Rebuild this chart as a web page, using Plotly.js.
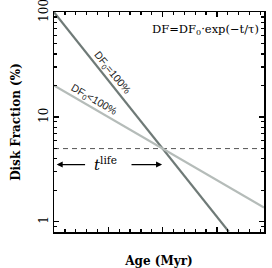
<!DOCTYPE html>
<html>
<head>
<meta charset="utf-8">
<script src="https://cdn.plot.ly/plotly-3.0.1.min.js"></script>
<style>html,body{margin:0;padding:0;background:#fff}#chart{width:272px;height:268px}</style>
</head>
<body>
<div id="chart"></div>
<script>
// Data
const ageSteep = [0, 16.1];        // DF0 = 100% line (Myr)
const dfSteep = [100, 0.805];      // Disk fraction (%)
const ageShallow = [0, 19.34];     // DF0 < 100% line
const dfShallow = [20, 1.37];
const ageLimit = [0, 19.34];       // 5% threshold
const dfLimit = [5, 5];
const yTickVals = [1, 10, 100];
const yTickText = ["1", "10", "100"];

const traces = [
  {x: ageLimit, y: dfLimit, mode: 'lines', line: {color: '#555', width: 1, dash: '5px,4px'}, hoverinfo: 'skip'},
  {x: ageSteep, y: dfSteep, mode: 'lines', line: {color: '#6f7a77', width: 2.2}},
  {x: ageShallow, y: dfShallow, mode: 'lines', line: {color: '#b5bcb9', width: 2.2}}
];

const serif = "'DejaVu Serif', serif";
const sans = "'Liberation Sans', Arial, sans-serif";
const layout = {
  width: 272, height: 268,
  margin: {l: 54, r: 8, t: 12, b: 36},
  paper_bgcolor: '#fff', plot_bgcolor: '#fff',
  showlegend: false,
  xaxis: {
    range: [0, 19.34], showgrid: false, zeroline: false,
    showticklabels: false,
    ticks: 'inside', ticklen: 5, tickwidth: 1.3, tickcolor: '#000', dtick: 5, tick0: 0,
    minor: {ticks: 'inside', ticklen: 3, tickwidth: 1.3, dtick: 1, tick0: 0, tickcolor: '#000', showgrid: false},
    showline: true, linecolor: '#000', linewidth: 1.5, mirror: 'ticks',
    title: {text: 'Age (Myr)', font: {family: serif, size: 12, color: '#000', weight: 'bold'}}
  },
  yaxis: {
    type: 'log', range: [Math.log10(0.8), 2.002], showgrid: false, zeroline: false,
    tickmode: 'array', tickvals: yTickVals, ticktext: yTickText, tickangle: -90,
    tickfont: {family: serif, size: 12, color: '#000'}, ticklabeloverflow: 'allow',
    ticks: 'inside', ticklen: 5, tickwidth: 1.3, tickcolor: '#000',
    minor: {ticks: 'inside', ticklen: 3, tickwidth: 1.3, dtick: 'D1', tickcolor: '#000', showgrid: false},
    showline: true, linecolor: '#000', linewidth: 1.5, mirror: 'ticks',
    title: {text: 'Disk Fraction (%)', font: {family: serif, size: 12, color: '#000', weight: 'bold'}}
  },
  annotations: [
    {xref: 'paper', yref: 'paper', x: 0.985, y: 0.92, xanchor: 'right', yanchor: 'middle', showarrow: false,
     text: 'DF=DF<sub>0</sub>·exp(−t/τ)', font: {family: serif, size: 11.5, color: '#000'}},
    {xref: 'x', yref: 'y', x: 5.34, y: 1.416, showarrow: false, textangle: 51,
     text: 'DF<sub>0</sub>=100%', font: {family: sans, size: 10.5, color: '#222'}},
    {xref: 'x', yref: 'y', x: 3.68, y: 1.159, showarrow: false, textangle: 30,
     text: 'DF<sub>0</sub><100%', font: {family: sans, size: 10.5, color: '#222'}},
    {xref: 'x', yref: 'y', x: 4.7, y: Math.log10(3.6), showarrow: false,
     text: '<i>t</i><sup>life</sup>', font: {family: serif, size: 15, color: '#000'}},
    {xref: 'x', yref: 'y', axref: 'x', ayref: 'y', x: 0.25, y: Math.log10(3.52), ax: 3.0, ay: Math.log10(3.52),
     text: '', showarrow: true, arrowhead: 2, arrowsize: 1, arrowwidth: 1.2, arrowcolor: '#000'},
    {xref: 'x', yref: 'y', axref: 'x', ayref: 'y', x: 9.95, y: Math.log10(3.52), ax: 7.0, ay: Math.log10(3.52),
     text: '', showarrow: true, arrowhead: 2, arrowsize: 1, arrowwidth: 1.2, arrowcolor: '#000'}
  ]
};

Plotly.newPlot('chart', traces, layout, {displayModeBar: false, staticPlot: true}).then(function(gd){
  // bring Plotly's own tick marks to the front so they are not hidden
  const svgs = gd.querySelectorAll('svg.main-svg');
  const top = svgs[svgs.length - 1];
  const g = document.createElementNS('http://www.w3.org/2000/svg', 'g');
  top.appendChild(g);
  gd.querySelectorAll('path.ticks').forEach(function(t){
    const c = t.cloneNode(true);
    c.style.stroke = '#000';
    c.style.strokeOpacity = '1';
    c.style.strokeWidth = '1.3px';
    c.style.fill = 'none';
    g.appendChild(c);
  });
});
</script>
</body>
</html>
